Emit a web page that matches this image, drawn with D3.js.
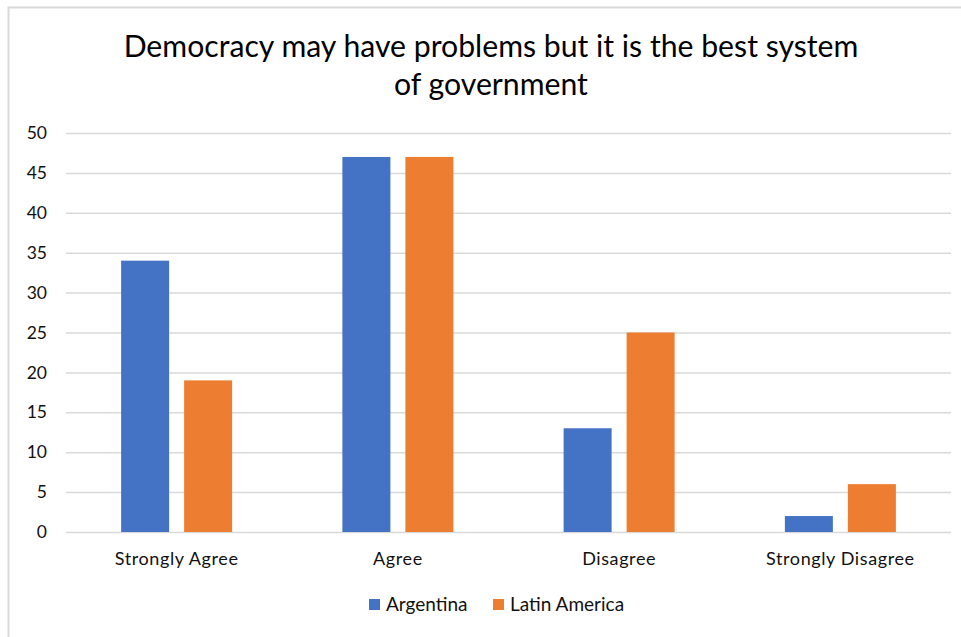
<!DOCTYPE html>
<html>
<head>
<meta charset="utf-8">
<script src="https://cdn.jsdelivr.net/npm/d3@7"></script>
<style>
  html, body { margin: 0; padding: 0; background: #fff; }
  svg { display: block; }
  text { font-family: Lato, "Open Sans", sans-serif; }
</style>
</head>
<body>
<svg id="chart" width="961" height="637"></svg>
<script>
// Survey responses (%)
const categories = ["Strongly Agree", "Agree", "Disagree", "Strongly Disagree"];
const seriesNames = ["Argentina", "Latin America"];
const argentina = [34, 47, 13, 2];
const latinAmerica = [19, 47, 25, 6];
const yTicks = [0, 5, 10, 15, 20, 25, 30, 35, 40, 45, 50];
const titleLines = ["Democracy may have problems but it is the best system", "of government"];

const colors = ["#4472C4", "#ED7D31"];
const svg = d3.select("#chart");
const W = 961, H = 637;

// frame
svg.append("path")
  .attr("d", `M8.5,${H} V7.5 H${W}`)
  .attr("fill", "none")
  .attr("stroke", "#d9d9d9")
  .attr("stroke-width", 2);

const plot = { left: 66, right: 951, top: 133, bottom: 532 };

const x0 = d3.scaleBand().domain(categories).range([plot.left, plot.right]).paddingInner(0).paddingOuter(0);
const y = d3.scaleLinear().domain([0, 50]).range([plot.bottom, plot.top]);

// title
svg.append("text")
  .attr("x", 491).attr("y", 57)
  .attr("text-anchor", "middle")
  .attr("font-size", 30.2)
  .attr("fill", "#000")
  .selectAll("tspan")
  .data(titleLines)
  .join("tspan")
  .attr("x", 491)
  .attr("dy", (d, i) => i === 0 ? 0 : 38)
  .text(d => d);

// gridlines + y axis labels
const yAxis = d3.axisLeft(y).tickValues(yTicks).tickSize(-(plot.right - plot.left)).tickPadding(19);
const gy = svg.append("g").attr("transform", `translate(${plot.left},0)`).call(yAxis);
gy.select(".domain").remove();
gy.selectAll(".tick line").attr("stroke", "#d9d9d9").attr("stroke-width", 1.5);
gy.selectAll(".tick text").attr("font-size", 17.5).attr("fill", "#111").attr("font-family", "Lato, sans-serif");

// bars
const barW = 48, gap = 15;
const data = categories.map((c, i) => ({ cat: c, vals: [argentina[i], latinAmerica[i]] }));
const groups = svg.append("g").selectAll("g")
  .data(data).join("g")
  .attr("transform", d => `translate(${x0(d.cat) + x0.bandwidth() / 2},0)`);
groups.selectAll("rect")
  .data(d => d.vals.map((v, k) => ({ v, k })))
  .join("rect")
  .attr("x", d => d.k === 0 ? -(gap / 2 + barW) : gap / 2)
  .attr("width", barW)
  .attr("y", d => y(d.v))
  .attr("height", d => y(0) - y(d.v))
  .attr("fill", d => colors[d.k]);

// category labels
const xAxis = d3.axisBottom(x0).tickSize(0).tickPadding(20);
const gx = svg.append("g").attr("transform", `translate(0,${plot.bottom})`).call(xAxis);
gx.select(".domain").remove();
gx.selectAll(".tick text").attr("font-size", 18).attr("letter-spacing", 0.6)
  .attr("fill", "#111").attr("font-family", "Lato, sans-serif");

// legend
const legendX = [369, 493];
const lg = svg.append("g").selectAll("g")
  .data(seriesNames).join("g")
  .attr("transform", (d, i) => `translate(${legendX[i]},599)`);
lg.append("rect").attr("width", 11).attr("height", 11).attr("fill", (d, i) => colors[i]);
lg.append("text").attr("x", 17).attr("y", 12)
  .attr("font-size", 19).attr("fill", "#111").text(d => d);
</script>
</body>
</html>
